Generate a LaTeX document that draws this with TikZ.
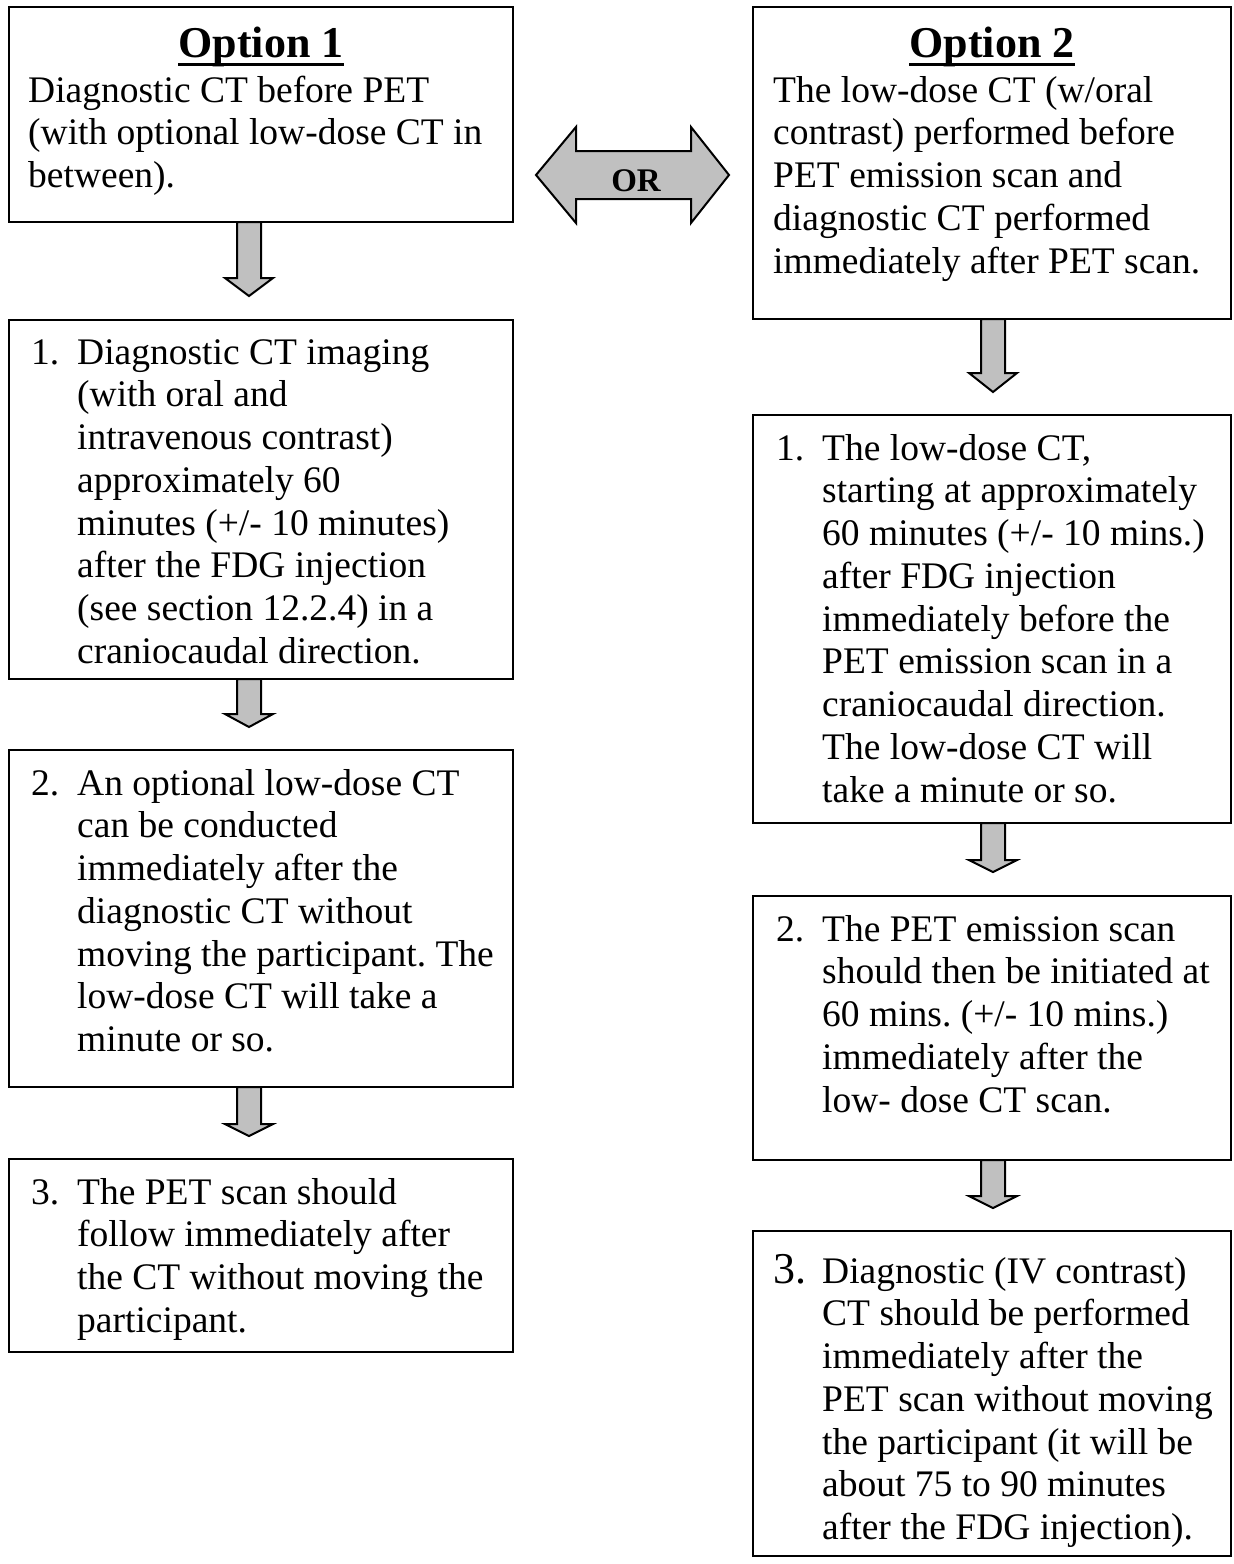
\documentclass[tikz,border=0pt]{standalone}
\usepackage{fontspec}
\setmainfont{Liberation Serif}
\frenchspacing
\usetikzlibrary{calc}
\definecolor{arrowgray}{HTML}{C0C0C0}
\newcommand\bodyfont{\fontsize{37.5pt}{42.75pt}\selectfont}
\newcommand\titlefont{\fontsize{44pt}{50pt}\selectfont\bfseries}
\newcommand\fl{\rule{0pt}{35pt}}
\newcommand\ulin[1]{\setbox0\hbox{#1}\rlap{\rule[-9pt]{\wd0}{3pt}}\box0}
% #1 start coordinate (on box bottom), #2 next box top anchor, #3 head length, #4 gap to next box
\newcommand\blkarrow[4]{%
  \filldraw[blk] let \p1=(#1), \p2=(#2) in
  (\x1-12pt,\y1) -- (\x1+12pt,\y1) -- (\x1+12pt,\y2+#4pt+#3pt) -- (\x1+24pt,\y2+#4pt+#3pt)
  -- (\x1,\y2+#4pt) -- (\x1-24pt,\y2+#4pt+#3pt) -- (\x1-12pt,\y2+#4pt+#3pt) -- cycle;}
\tikzset{
  box/.style={draw, line width=2.2pt, rectangle, inner sep=0pt, outer sep=0pt, anchor=north west},
  txt/.style={anchor=north west, inner sep=0pt, align=left, font=\bodyfont},
  ttl/.style={anchor=base, inner sep=0pt, font=\titlefont},
  blk/.style={draw=black, fill=arrowgray, line width=2pt, line join=miter},
}
\begin{document}
\begin{tikzpicture}[x=1pt,y=-1pt]
\fill[white] (0,0) rectangle (1234,1564);
\useasboundingbox (0,0) rectangle (1234,1564);

% ---------- left column ----------
\node[box, minimum width=504pt, minimum height=215pt] (L0) at (9,7) {};
\node[ttl] (L0h) at (261,57) {\ulin{Option 1}};
\node[txt] (L0t) at (28,102-35) {\fl Diagnostic CT before PET\\(with optional low-dose CT in\\between).};

\node[box, minimum width=504pt, minimum height=359pt] (L1) at (9,320) {};
\node[txt] (L1n) at (31,364-35) {\fl 1.};
\node[txt] (L1t) at (77,364-35) {\fl Diagnostic CT imaging\\(with oral and\\intravenous contrast)\\approximately 60\\minutes (+/- 10 minutes)\\after the FDG injection\\(see section 12.2.4) in a\\craniocaudal direction.};

\node[box, minimum width=504pt, minimum height=337pt] (L2) at (9,750) {};
\node[txt] (L2n) at (31,795-35) {\fl 2.};
\node[txt] (L2t) at (77,795-35) {\fl An optional low-dose CT\\can be conducted\\immediately after the\\diagnostic CT without\\moving the participant. The\\low-dose CT will take a\\minute or so.};

\node[box, minimum width=504pt, minimum height=193pt] (L3) at (9,1159) {};
\node[txt] (L3n) at (31,1204-35) {\fl 3.};
\node[txt] (L3t) at (77,1204-35) {\fl The PET scan should\\follow immediately after\\the CT without moving the\\participant.};

% ---------- right column ----------
\node[box, minimum width=478pt, minimum height=312pt] (R0) at (753,7) {};
\node[ttl] (R0h) at (992,57) {\ulin{Option 2}};
\node[txt] (R0t) at (773,102-35) {\fl The low-dose CT (w/oral\\contrast) performed before\\PET emission scan and\\diagnostic CT performed\\immediately after PET scan.};

\node[box, minimum width=478pt, minimum height=408pt] (R1) at (753,415) {};
\node[txt] (R1n) at (776,460-35) {\fl 1.};
\node[txt] (R1t) at (822,460-35) {\fl The low-dose CT,\\starting at approximately\\60 minutes (+/- 10 mins.)\\after FDG injection\\immediately before the\\PET emission scan in a\\craniocaudal direction.\\The low-dose CT will\\take a minute or so.};

\node[box, minimum width=478pt, minimum height=264pt] (R2) at (753,896) {};
\node[txt] (R2n) at (776,941-35) {\fl 2.};
\node[txt] (R2t) at (822,941-35) {\fl The PET emission scan\\should then be initiated at\\60 mins. (+/- 10 mins.)\\immediately after the\\low- dose CT scan.};

\node[box, minimum width=478pt, minimum height=325pt] (R3) at (753,1231) {};
\node[txt, font=\fontsize{44pt}{50pt}\selectfont] (R3n) at (773,1283-35) {\fl 3.};
\node[txt] (R3t) at (822,1283-35) {\fl Diagnostic (IV contrast)\\CT should be performed\\immediately after the\\PET scan without moving\\the participant (it will be\\about 75 to 90 minutes\\after the FDG injection).};

% ---------- block arrows ----------
\coordinate (a1) at ($(L0.south)+(-12,0)$);
\coordinate (a2) at ($(L1.south)+(-12,0)$);
\coordinate (a3) at ($(L2.south)+(-12,0)$);
\coordinate (b1) at ($(R0.south)+(1,0)$);
\coordinate (b2) at ($(R1.south)+(1,0)$);
\coordinate (b3) at ($(R2.south)+(1,0)$);
\blkarrow{a1}{L1.north}{18}{24}
\blkarrow{a2}{L2.north}{13}{23}
\blkarrow{a3}{L3.north}{12}{23}
\blkarrow{b1}{R1.north}{19}{23}
\blkarrow{b2}{R2.north}{12}{24}
\blkarrow{b3}{R3.north}{12}{23}

% ---------- OR double arrow ----------
\filldraw[blk] let \p1=(L0.south east), \p2=(R0.west) in
  (\x1+23pt,\y1+47pt) -- (\x1+63pt,\y1+95pt) -- (\x1+63pt,\y1+71pt) -- (\x2-62pt,\y1+71pt)
  -- (\x2-62pt,\y1+95pt) -- (\x2-24pt,\y1+47pt) -- (\x2-62pt,\y1-1pt) -- (\x2-62pt,\y1+23pt)
  -- (\x1+63pt,\y1+23pt) -- (\x1+63pt,\y1-1pt) -- cycle;
\node[anchor=base, inner sep=0pt, font=\fontsize{33pt}{38pt}\selectfont\bfseries] (ortext) at (636,191) {OR};
\end{tikzpicture}
\end{document}
